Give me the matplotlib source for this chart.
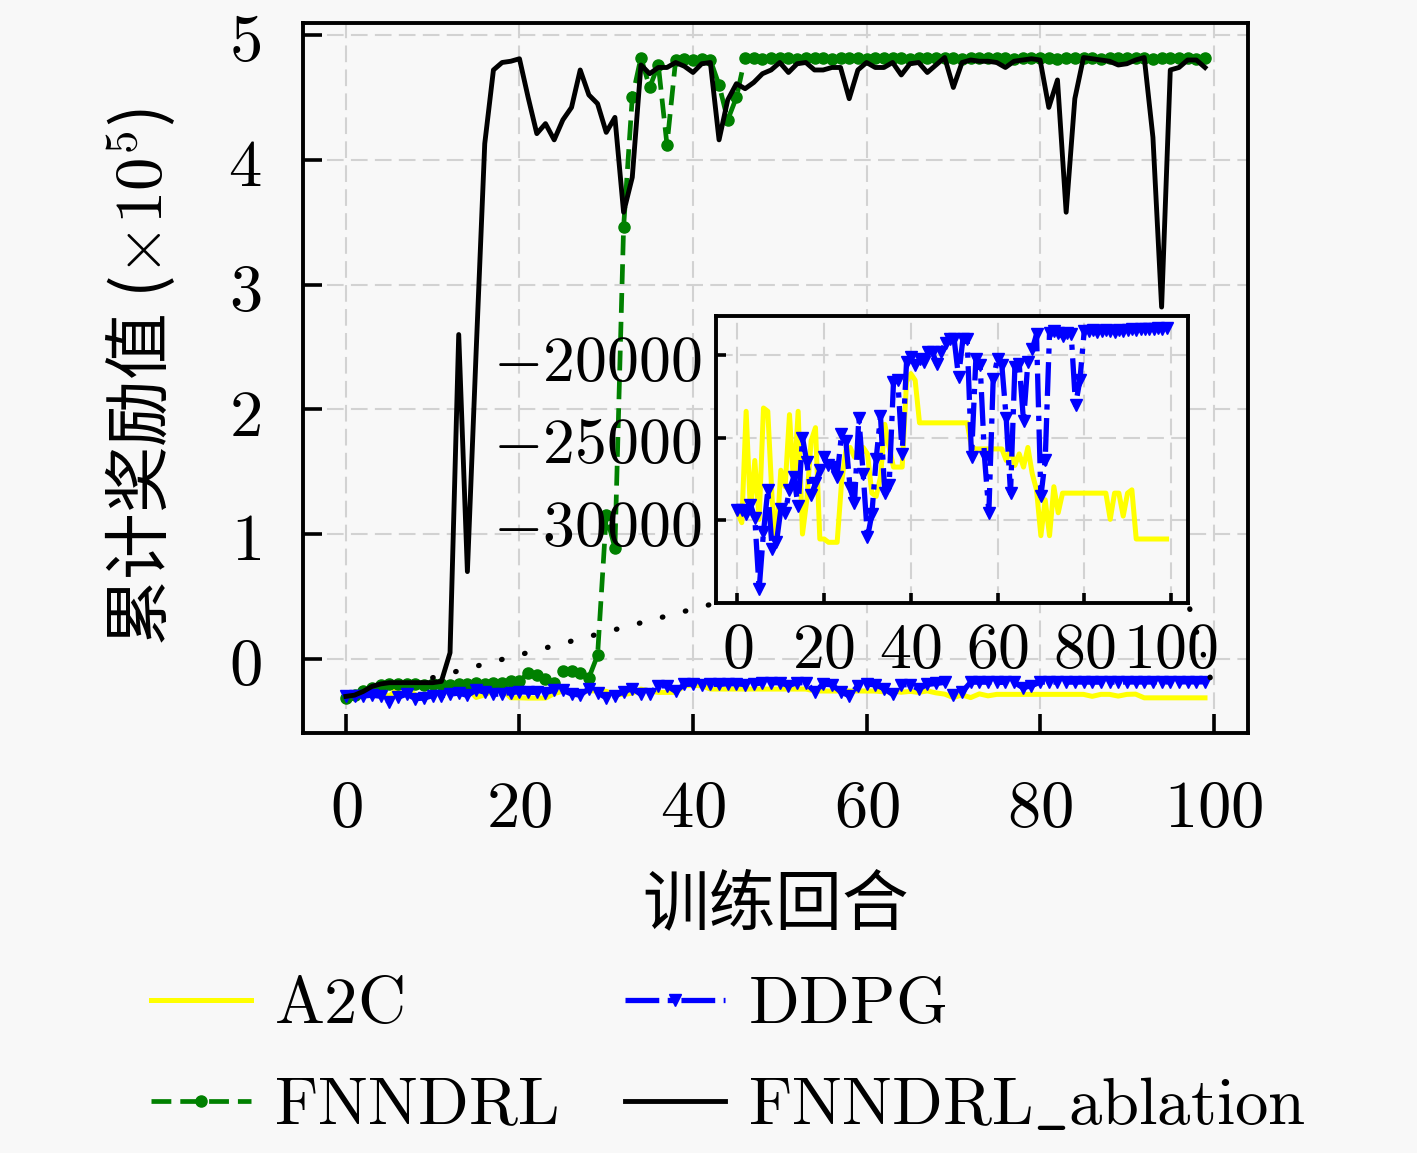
import matplotlib
matplotlib.use("Agg")
import matplotlib.pyplot as plt
from matplotlib.patches import ConnectionPatch
from matplotlib.ticker import FuncFormatter
import numpy as np

plt.rcParams['mathtext.fontset'] = 'cm'
plt.rcParams['font.family'] = ['Noto Sans CJK SC', 'DejaVu Sans']

episodes = np.arange(100)

a2c = [-29560, -30160, -23410, -29560, -26390, -29960, -23210, -23410, -28770, -31350,
       -26980, -27980, -23610, -27980, -23410, -30850, -28770, -25200, -24400, -31150,
       -31150, -31350, -31350, -31350, -27780, -25790, -25600, -26190, -25600, -25600,
       -25990, -28370, -28570, -27380, -24200, -25600, -26790, -26790, -26790, -21630,
       -21130, -21530, -24110, -24110, -24110, -24110, -24110, -24110, -24110, -24110,
       -24110, -24110, -24110, -24110, -25600, -25690, -25690, -25690, -25690, -25690,
       -25690, -25690, -26390, -25690, -26690, -25990, -26790, -25600, -27180, -28170,
       -30950, -28770, -30950, -27980, -29560, -28370, -28370, -28370, -28370, -28370,
       -28370, -28370, -28370, -28370, -28370, -28370, -29960, -28370, -28370, -29760,
       -28370, -28170, -31150, -31150, -31150, -31150, -31150, -31150, -31150, -31150]

ddpg = [-29400, -29400, -29660, -29070, -29860, -34200, -30750, -28170, -31750, -31350,
        -29360, -29560, -28170, -27380, -29170, -25000, -26490, -28470, -27780, -26980,
        -26190, -26690, -26790, -27380, -24800, -25200, -28080, -28970, -23810, -27180,
        -31050, -29660, -26290, -23710, -28370, -27880, -21630, -21530, -25990, -20440,
        -20140, -20630, -20240, -20440, -19840, -19840, -20540, -19840, -19250, -19050,
        -19050, -21330, -19050, -19050, -26190, -20240, -20630, -26190, -29560, -21430,
        -20240, -20630, -23810, -28370, -20730, -20540, -24010, -20440, -19640, -18750,
        -28570, -26390, -18650, -18550, -18650, -18850, -18650, -18750, -23020, -21530,
        -18550, -18550, -18500, -18600, -18550, -18500, -18550, -18600, -18500, -18550,
        -18500, -18450, -18500, -18450, -18400, -18450, -18400, -18350, -18400, -18350]

fnndrl = [-31000, -29000, -26000, -23000, -21000, -20000, -20000, -20000, -20000, -21000,
          -20000, -20000, -21000, -20000, -20000, -19000, -20000, -19000, -19000, -18000,
          -18000, -11000, -13000, -16000, -19000, -10000, -10000, -11000, -15000, 3000,
          115000, 89000, 346000, 450000, 482000, 458000, 476000, 412000, 480000, 481000,
          480000, 481000, 480000, 460000, 432000, 450000, 482000, 482000, 481000, 482000,
          482000, 482000, 481000, 482000, 482000, 482000, 481000, 482000, 482000, 482000,
          481000, 482000, 482000, 482000, 482000, 481000, 482000, 482000, 482000, 482000,
          482000, 481000, 482000, 482000, 482000, 482000, 482000, 481000, 482000, 482000,
          482000, 482000, 481000, 482000, 482000, 482000, 482000, 481000, 482000, 482000,
          482000, 482000, 482000, 481000, 482000, 482000, 482000, 482000, 481000, 482000]

ablation = [-30000, -29000, -26000, -22000, -20000, -19000, -19000, -19000, -19000, -19000,
            -19000, -18000, 5000, 260000, 70000, 245000, 413000, 472000, 478000, 479000,
            481000, 450000, 421000, 429000, 416000, 432000, 442000, 472000, 452000, 445000,
            422000, 434000, 358000, 386000, 476000, 469000, 474000, 474000, 478000, 475000,
            470000, 477000, 478000, 416000, 448000, 461000, 457000, 462000, 469000, 472000,
            478000, 470000, 477000, 478000, 472000, 472000, 474000, 474000, 449000, 472000,
            478000, 474000, 474000, 478000, 468000, 477000, 478000, 470000, 476000, 482000,
            458000, 478000, 480000, 479000, 479000, 478000, 474000, 479000, 480000, 481000,
            480000, 442000, 464000, 358000, 449000, 482000, 481000, 480000, 479000, 476000,
            477000, 480000, 482000, 418000, 282000, 472000, 474000, 480000, 480000, 474000]

xticks = [0, 20, 40, 60, 80, 100]
yticks_main = [0, 1, 2, 3, 4, 5]
yticks_inset = [-30000, -25000, -20000]

bg = '#f8f8f8'
fig = plt.figure(figsize=(14.17, 11.53), dpi=100, facecolor=bg)
ax = fig.add_axes([0.2138, 0.3643, 0.6669, 0.6157], facecolor=bg)
ins = fig.add_axes([0.5053, 0.477, 0.3331, 0.2489], facecolor=bg)

math_fmt = FuncFormatter(lambda v, p: f'${v:g}$')

sc = np.array
h1, = ax.plot(episodes, sc(a2c) / 1e5, color='yellow', lw=3.6, label=r'$\mathrm{A2C}$')
h2, = ax.plot(episodes, sc(fnndrl) / 1e5, color='green', lw=3.4, dashes=(4.2, 1.9),
              marker='o', ms=8, label=r'$\mathrm{FNNDRL}$')
h3, = ax.plot(episodes, sc(ddpg) / 1e5, color='blue', lw=3.8, ls='-.',
              marker='v', ms=8, label=r'$\mathrm{DDPG}$')
h4, = ax.plot(episodes, sc(ablation) / 1e5, color='black', lw=3.5,
              label=r'$\mathrm{FNNDRL\_ablation}$')
handles = [h1, h2, h3, h4]

ax.set_xlim(-4.95, 103.95)
ax.set_ylim(-0.593, 5.096)
ax.set_xticks(xticks)
ax.set_yticks(yticks_main)

ins.plot(episodes, a2c, color='yellow', lw=3.6)
ins.plot(episodes, ddpg, color='blue', lw=3.8, ls='-.', marker='v', ms=8)
ins.set_xlim(-4.95, 103.95)
ins.set_ylim(-35030, -17636)
ins.set_xticks(xticks)
ins.set_yticks(yticks_inset)

for a, pad, ln, fs in [(ax, 30, 14, 48), (ins, 10, 7, 46)]:
    a.xaxis.set_major_formatter(math_fmt)
    a.yaxis.set_major_formatter(math_fmt)
    a.tick_params(direction='in', length=ln, width=2.6, pad=pad, labelsize=fs)
    a.grid(True, ls=(0, (8, 3.5)), color='#d2d2d2', lw=1.5)
    a.set_axisbelow(True)
    for s in a.spines.values():
        s.set_linewidth(2.8)

for xa in [(10, -0.15), (99.6, -0.15)]:
    xb = (0, 0) if xa[0] < 50 else (1, 0)
    cp = ConnectionPatch(xyA=xa, coordsA=ax.transData, xyB=xb, coordsB=ins.transAxes,
                         color='black', lw=3.8, ls=(0, (0.1, 4.4)), capstyle='round')
    fig.add_artist(cp)

fig.text(0.547, 0.215, '训练回合', ha='center', va='center', fontsize=48)
fig.text(0.099, 0.673, r'累计奖励值 ($\times10^5$)', ha='center', va='center',
         rotation=90, fontsize=48)

fig.legend(handles=handles, loc='center', bbox_to_anchor=(0.514, 0.085), ncol=2,
           frameon=False, fontsize=48, handlelength=1.5, handletextpad=0.35,
           columnspacing=1.0, labelspacing=0.5)

fig.savefig('out.png', dpi=100, facecolor=bg)
